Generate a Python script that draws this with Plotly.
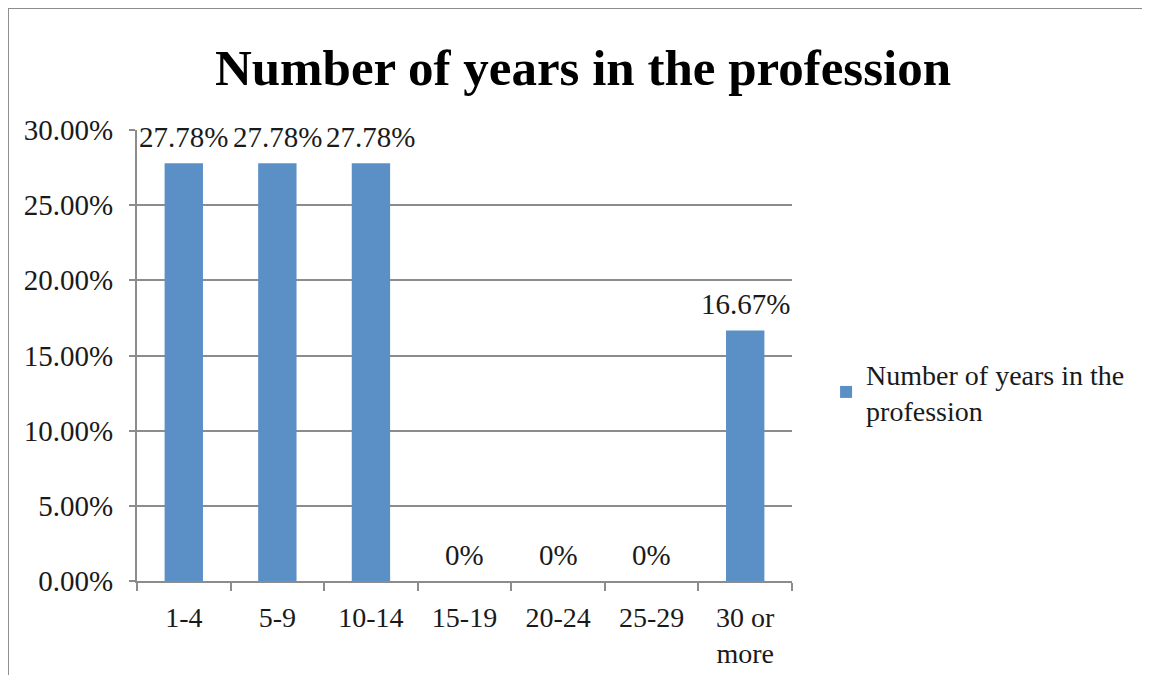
import plotly.graph_objects as go

# data
categorias = ["1-4", "5-9", "10-14", "15-19", "20-24", "25-29", "30 or<br>more"]
porcentajes = [0.2778, 0.2778, 0.2778, 0.0, 0.0, 0.0, 0.1667]
titulo = "Number of years in the profession"
nombre_serie = "Number of years in the<br>profession"

etiquetas = [f"{v:.2%}" if v else "0%" for v in porcentajes]

fuente = "Liberation Serif"
gris = "#8c8c8c"
texto = "#1a1a1a"

fig = go.Figure()

fig.add_trace(
    go.Bar(
        x=categorias,
        y=porcentajes,
        name=nombre_serie,
        marker=dict(color="#5b90c6", line=dict(width=0)),
        showlegend=True,
    )
)

# etiquetas de datos encima de cada barra
for cat, val, txt in zip(categorias, porcentajes, etiquetas):
    fig.add_annotation(
        x=cat, y=val, text=txt,
        showarrow=False,
        yanchor="middle",
        yshift=26,
        font=dict(family=fuente, size=29, color=texto),
    )

fig.update_layout(
    width=1142,
    height=667,
    margin=dict(l=129, r=358, t=122, b=94),
    paper_bgcolor="white",
    plot_bgcolor="white",
    bargap=0.59,
    title=dict(
        text="<b>" + titulo + "</b>",
        font=dict(family=fuente, size=51, color="black"),
        x=0.5035,
        xanchor="center",
        xref="container",
        y=0.912,
        yanchor="middle",
    ),
    font=dict(family=fuente, size=28, color=texto),
    legend=dict(
        x=1.052,
        y=0.419,
        xanchor="left",
        yanchor="middle",
        font=dict(family=fuente, size=28, color=texto),
        itemwidth=30,
    ),
)

fig.update_yaxes(
    range=[0, 0.30],
    dtick=0.05,
    tickformat=".2%",
    tickfont=dict(family=fuente, size=29, color=texto),
    showgrid=True,
    gridcolor=gris,
    gridwidth=2,
    showline=True,
    linecolor=gris,
    linewidth=2,
    ticks="outside",
    ticklen=6,
    tickwidth=2,
    tickcolor=gris,
    zeroline=False,
    ticklabelstandoff=10,
    automargin=False,
)

fig.update_xaxes(
    type="category",
    tickfont=dict(family=fuente, size=28, color=texto),
    showline=True,
    linecolor=gris,
    linewidth=2,
    ticks="outside",
    tickson="boundaries",
    ticklen=8,
    tickwidth=2,
    tickcolor=gris,
    showgrid=False,
    ticklabelstandoff=10,
    automargin=False,
)

# marco exterior del grafico (arriba e izquierda)
fig.add_shape(type="line", xref="paper", yref="paper",
              x0=-0.197, x1=1.6, y0=1.2705, y1=1.2705,
              line=dict(color=gris, width=2))
fig.add_shape(type="line", xref="paper", yref="paper",
              x0=-0.197, x1=-0.197, y0=1.2705, y1=-0.3,
              line=dict(color=gris, width=2))

fig.write_html("out.html")
